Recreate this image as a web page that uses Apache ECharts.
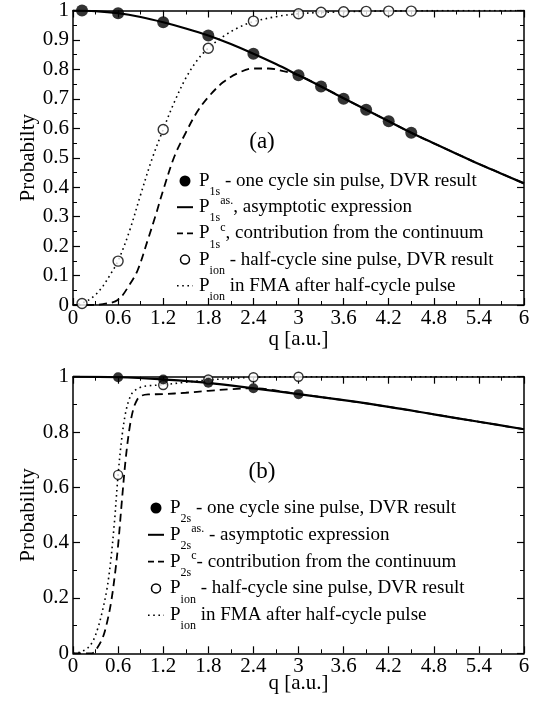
<!DOCTYPE html>
<html>
<head>
<meta charset="utf-8">
<script src="https://cdn.jsdelivr.net/npm/echarts@6/dist/echarts.min.js"></script>
<style>
  html, body { margin: 0; padding: 0; background: #fff; }
  #chart { width: 543px; height: 702px; }
</style>
</head>
<body>
<div id="chart"></div>
<script>
// ---------- panel (a): 1s state ----------
const qDvrA = [0.12, 0.6, 1.2, 1.8, 2.4, 3.0, 3.3, 3.6, 3.9, 4.2, 4.5];
const p1sDvr = [1.0, 0.991, 0.960, 0.915, 0.853, 0.780, 0.742, 0.700, 0.663, 0.624, 0.585];
const pIonDvrA = [0.005, 0.149, 0.596, 0.872, 0.964, 0.989, 0.994, 0.996, 0.997, 0.998, 0.998];

const qAsA = [0, 0.3, 0.6, 0.9, 1.2, 1.5, 1.8, 2.1, 2.4, 2.7, 3.0, 3.3, 3.6, 3.9, 4.2, 4.5, 4.8, 5.1, 5.4, 5.7, 6.0];
const p1sAs = [1.0, 0.998, 0.991, 0.978, 0.960, 0.939, 0.915, 0.886, 0.853, 0.818, 0.780, 0.742, 0.702, 0.663, 0.624, 0.585, 0.549, 0.514, 0.479, 0.446, 0.413];

const qContA = [0, 0.2, 0.4, 0.6, 0.75, 0.86, 1.0, 1.1, 1.2, 1.35, 1.5, 1.65, 1.8, 2.0, 2.2, 2.4, 2.6, 2.8, 3.0, 3.3, 3.6, 3.9, 4.2, 4.5, 4.8, 5.1, 5.4, 5.7, 6.0];
const p1sCont = [0, 0, 0.003, 0.018, 0.068, 0.118, 0.225, 0.305, 0.39, 0.505, 0.585, 0.655, 0.706, 0.757, 0.788, 0.803, 0.803, 0.794, 0.780, 0.742, 0.702, 0.663, 0.624, 0.585, 0.549, 0.514, 0.479, 0.446, 0.413];

const qFmaA = [0, 0.17, 0.3, 0.4, 0.5, 0.6, 0.75, 0.9, 1.05, 1.2, 1.35, 1.5, 1.65, 1.8, 2.0, 2.2, 2.4, 2.7, 3.0, 3.5, 4.0, 4.5, 5.0, 6.0];
const pIonFmaA = [0, 0.012, 0.035, 0.065, 0.105, 0.15, 0.25, 0.375, 0.495, 0.596, 0.69, 0.77, 0.83, 0.872, 0.912, 0.942, 0.962, 0.979, 0.989, 0.995, 0.998, 0.999, 1.0, 1.0];

// ---------- panel (b): 2s state ----------
const qDvrB = [0.6, 1.2, 1.8, 2.4, 3.0];
const p2sDvr = [0.998, 0.990, 0.978, 0.958, 0.937];
const pIonDvrB = [0.645, 0.970, 0.990, 0.998, 1.0];

const qAsB = [0, 0.6, 1.2, 1.8, 2.4, 3.0, 3.6, 4.2, 4.8, 5.4, 6.0];
const p2sAs = [1.0, 0.998, 0.990, 0.978, 0.958, 0.937, 0.915, 0.891, 0.864, 0.837, 0.810];

const qContB = [0, 0.25, 0.33, 0.4, 0.46, 0.51, 0.56, 0.6, 0.65, 0.7, 0.75, 0.8, 0.85, 0.9, 1.0, 1.2, 1.5, 1.8, 2.1, 2.4, 3.0, 3.6, 4.2, 4.8, 5.4, 6.0];
const p2sCont = [0, 0, 0.023, 0.06, 0.12, 0.19, 0.29, 0.39, 0.55, 0.70, 0.81, 0.88, 0.915, 0.93, 0.936, 0.937, 0.942, 0.949, 0.955, 0.958, 0.937, 0.915, 0.891, 0.864, 0.837, 0.810];

const qFmaB = [0, 0.1, 0.2, 0.27, 0.33, 0.38, 0.45, 0.5, 0.55, 0.6, 0.65, 0.7, 0.75, 0.8, 0.9, 1.0, 1.2, 1.5, 1.8, 2.1, 2.4, 3.0, 4.0, 5.0, 6.0];
const pIonFmaB = [0, 0.005, 0.02, 0.047, 0.09, 0.14, 0.23, 0.33, 0.47, 0.645, 0.78, 0.87, 0.92, 0.945, 0.962, 0.967, 0.971, 0.980, 0.988, 0.994, 0.998, 1.0, 1.0, 1.0, 1.0];

// axis annotations
const xName = 'q [a.u.]';
const yNameA = 'Probabilty';
const yNameB = 'Probability';

const FONT = 'Liberation Serif';
const pairs = (xs, ys) => xs.map((x, i) => [x, ys[i]]);

const black = '#000';
const axisLine = { show: true, onZero: false, lineStyle: { color: black, width: 1.5 } };
const tick = { show: true, inside: true, length: 7, lineStyle: { color: black, width: 1.2 } };
const minor = { show: true, splitNumber: 2, length: 4, lineStyle: { color: black, width: 1 } };
const tickLabel = { color: black, fontFamily: FONT, fontSize: 21 };

function xAxes(grid, nameGap) {
  return [
    { gridIndex: grid, type: 'value', min: 0, max: 6, interval: 0.6, position: 'bottom',
      axisLine, axisTick: tick, minorTick: minor, splitLine: { show: false },
      axisLabel: Object.assign({ margin: 3 }, tickLabel),
      name: xName, nameLocation: 'middle', nameGap, nameMoveOverlap: false,
      nameTextStyle: { color: black, fontFamily: FONT, fontSize: 21 } },
    { gridIndex: grid, type: 'value', min: 0, max: 6, interval: 0.6, position: 'top',
      axisLine, axisTick: tick, minorTick: minor, splitLine: { show: false },
      axisLabel: { show: false } }
  ];
}
function yAxes(grid, interval, name) {
  return [
    { gridIndex: grid, type: 'value', min: 0, max: 1, interval, position: 'left',
      axisLine, axisTick: tick, minorTick: minor, splitLine: { show: false },
      axisLabel: Object.assign({ margin: 4 }, tickLabel),
      name, nameLocation: 'middle', nameGap: 34, nameMoveOverlap: false,
      nameTextStyle: { color: black, fontFamily: FONT, fontSize: 21 } },
    { gridIndex: grid, type: 'value', min: 0, max: 1, interval, position: 'right',
      axisLine, axisTick: tick, minorTick: minor, splitLine: { show: false },
      axisLabel: { show: false } }
  ];
}

function curve(xi, yi, xs, ys, dash, width) {
  return { type: 'line', xAxisIndex: xi, yAxisIndex: yi, data: pairs(xs, ys),
    showSymbol: false, smooth: 0.35, silent: true, z: 2,
    lineStyle: { color: black, width, type: dash } };
}
function dots(xi, yi, xs, ys, size, filled) {
  return { type: 'scatter', xAxisIndex: xi, yAxisIndex: yi, data: pairs(xs, ys),
    symbol: 'circle', symbolSize: size, z: 5, silent: true,
    itemStyle: filled ? { color: black } : { color: '#fff', borderColor: black, borderWidth: 1.4 } };
}

// rich-text legend entries: P with subscript and optional superscript
const rich = {
  m: { fontFamily: FONT, fontSize: 19, lineHeight: 34, color: black, verticalAlign: 'middle' },
  s: { fontFamily: FONT, fontSize: 12, lineHeight: 13, color: black, verticalAlign: 'bottom' },
  u: { fontFamily: FONT, fontSize: 12, lineHeight: 14, color: black, verticalAlign: 'top', padding: [5, 0, 0, 0] }
};
function entry(x, y, str) {
  return { type: 'text', x, y, silent: true,
    style: { text: str, rich, verticalAlign: 'middle', align: 'left' } };
}
function legendBlock(x0, y0, step, lines) {
  const items = [];
  const sx = x0 - 14;
  const ys = [0, 1, 2, 3, 4].map(i => y0 + i * step);
  items.push({ type: 'circle', silent: true, shape: { cx: sx, cy: ys[0], r: 5.5 }, style: { fill: black } });
  items.push({ type: 'line', silent: true, shape: { x1: sx - 8, y1: ys[1], x2: sx + 8, y2: ys[1] }, style: { stroke: black, lineWidth: 2 } });
  items.push({ type: 'line', silent: true, shape: { x1: sx - 8, y1: ys[2], x2: sx + 8, y2: ys[2] }, style: { stroke: black, lineWidth: 1.8, lineDash: [6, 4] } });
  items.push({ type: 'circle', silent: true, shape: { cx: sx, cy: ys[3], r: 4.5 }, style: { fill: '#fff', stroke: black, lineWidth: 1.5 } });
  items.push({ type: 'line', silent: true, shape: { x1: sx - 8, y1: ys[4], x2: sx + 8, y2: ys[4] }, style: { stroke: black, lineWidth: 1.6, lineDash: [1.6, 3.6] } });
  lines.forEach((t, i) => items.push(entry(x0, ys[i], t)));
  return items;
}

const legendA = legendBlock(199, 181, 26.2, [
  '{m|P}{s|1s}{m| - one cycle sin pulse, DVR result}',
  '{m|P}{s|1s}{u|as.}{m|, asymptotic expression}',
  '{m|P}{s|1s}{u|c}{m|, contribution from the continuum}',
  '{m|P}{s|ion}{m| - half-cycle sine pulse, DVR result}',
  '{m|P}{s|ion}{m| in FMA after half-cycle pulse}'
]);
const legendB = legendBlock(170, 508, 26.8, [
  '{m|P}{s|2s}{m| - one cycle sine pulse, DVR result}',
  '{m|P}{s|2s}{u|as.}{m| - asymptotic expression}',
  '{m|P}{s|2s}{u|c}{m|- contribution from the continuum}',
  '{m|P}{s|ion}{m| - half-cycle sine pulse, DVR result}',
  '{m|P}{s|ion}{m| in FMA after half-cycle pulse}'
]);

const panelTags = [
  { type: 'text', x: 262, y: 142, silent: true,
    style: { text: '(a)', fontFamily: FONT, fontSize: 23, fill: black, align: 'center', verticalAlign: 'middle' } },
  { type: 'text', x: 262, y: 472, silent: true,
    style: { text: '(b)', fontFamily: FONT, fontSize: 23, fill: black, align: 'center', verticalAlign: 'middle' } }
];

const option = {
  animation: false,
  backgroundColor: '#fff',
  grid: [
    { left: 73, right: 19, top: 9.5, height: 295.5 },
    { left: 73, right: 19, top: 376.7, height: 276.6 }
  ],
  xAxis: [...xAxes(0, 24), ...xAxes(1, 20)],
  yAxis: [...yAxes(0, 0.1, yNameA), ...yAxes(1, 0.2, yNameB)],
  series: [
    curve(0, 0, qAsA, p1sAs, 'solid', 2.2),
    curve(0, 0, qContA, p1sCont, [8, 5], 1.8),
    curve(0, 0, qFmaA, pIonFmaA, [1.6, 3.6], 1.6),
    dots(0, 0, qDvrA, pIonDvrA, 10, false),
    dots(0, 0, qDvrA, p1sDvr, 12, true),

    curve(2, 2, qAsB, p2sAs, 'solid', 2.2),
    curve(2, 2, qContB, p2sCont, [8, 5], 1.8),
    curve(2, 2, qFmaB, pIonFmaB, [1.6, 3.6], 1.6),
    dots(2, 2, qDvrB, pIonDvrB, 9, false),
    dots(2, 2, qDvrB, p2sDvr, 10, true)
  ],
  graphic: [...legendA, ...legendB, ...panelTags]
};

const chart = echarts.init(document.getElementById('chart'), null, { renderer: 'canvas' });
chart.setOption(option);
</script>
</body>
</html>
